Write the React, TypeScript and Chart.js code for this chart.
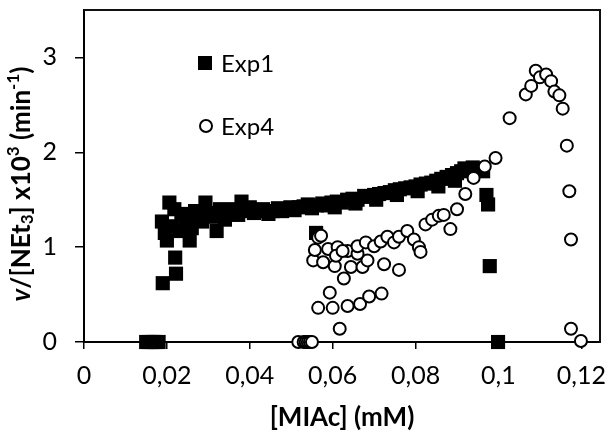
import React, { useEffect, useRef } from "react";
import { Chart, registerables } from "chart.js";

Chart.register(...registerables);

const xTickStep = 0.02;
const yTickStep = 1;
const xMax = 0.1245;
const yMax = 3.5;
const xTitle = "[MIAc] (mM)";
const legendLabels = ["Exp1", "Exp4"];

// Exp1 (filled squares)
const exp1X = [
  0.015, 0.0158, 0.0165, 0.0172, 0.018,
  0.019, 0.0222, 0.022, 0.02, 0.0188, 0.0206,
  0.0195, 0.0212, 0.0218, 0.023, 0.0235, 0.0245, 0.0255, 0.026, 0.0268, 0.0275,
  0.0285, 0.0293, 0.03, 0.031, 0.032, 0.0328, 0.034, 0.035, 0.0362, 0.0372,
  0.038, 0.039, 0.04, 0.041, 0.042, 0.0432, 0.0445, 0.0455, 0.0468, 0.0478,
  0.0488, 0.0498, 0.0508, 0.0518, 0.053, 0.054, 0.055, 0.056, 0.0562, 0.0575,
  0.0588, 0.0597, 0.061, 0.0622, 0.0635, 0.0648, 0.066, 0.0676, 0.0688, 0.07,
  0.0712, 0.0725, 0.0738, 0.075, 0.0762, 0.0775, 0.0788, 0.08, 0.0812, 0.0825,
  0.0838, 0.085, 0.0862, 0.0875, 0.0888, 0.09, 0.091, 0.0918, 0.0928, 0.0938,
  0.095, 0.0963, 0.0971, 0.0975, 0.0979, 0.0999,
  0.0605, 0.0655, 0.0705, 0.0755, 0.0805, 0.0855, 0.0895,
];
const exp1Y = [
  0, 0, 0, 0, 0,
  0.62, 0.72, 0.89, 1.07, 1.27, 1.47,
  1.15, 1.22, 1.4, 1.17, 1.35, 1.28, 1.07, 1.2, 1.38, 1.3,
  1.27, 1.47, 1.36, 1.32, 1.17, 1.4, 1.29, 1.36, 1.4, 1.34,
  1.48, 1.38, 1.42, 1.36, 1.38, 1.4, 1.35, 1.38, 1.41, 1.38,
  1.4, 1.42, 1.39, 1.42, 1.43, 1.45, 1.41, 1.15, 1.44, 1.46,
  1.44, 1.47, 1.48, 1.47, 1.5, 1.51, 1.5, 1.54, 1.53, 1.55,
  1.56, 1.57, 1.58, 1.6, 1.61, 1.62, 1.63, 1.64, 1.66, 1.67,
  1.68, 1.7, 1.72, 1.74, 1.76, 1.78, 1.8, 1.83, 1.82, 1.84,
  1.82, 1.8, 1.55, 1.45, 0.8, 0,
  1.42, 1.46, 1.5, 1.55, 1.59, 1.64, 1.7,
];

// Exp4 (open circles)
const exp4X = [
  0.0517, 0.053, 0.0535, 0.054, 0.0545, 0.055,
  0.0617, 0.0565, 0.06, 0.0636, 0.0666, 0.0688, 0.0718, 0.0593, 0.0627,
  0.0553, 0.0577, 0.0605, 0.0644, 0.0672, 0.0684, 0.0724, 0.076,
  0.0557, 0.0589, 0.0612, 0.0636, 0.066, 0.0565, 0.0572, 0.0608, 0.0624,
  0.066, 0.068, 0.07, 0.0716, 0.0732, 0.0748, 0.076, 0.078, 0.0796, 0.0808,
  0.0812, 0.0824, 0.084, 0.0856, 0.0868, 0.0884, 0.09, 0.092, 0.094, 0.0967,
  0.0993, 0.1027, 0.1066, 0.1079, 0.109, 0.11, 0.1115, 0.1127, 0.1135, 0.1147,
  0.1155, 0.1165, 0.1171, 0.1175, 0.1175, 0.1199,
];
const exp4Y = [
  0, 0, 0, 0, 0, 0,
  0.14, 0.36, 0.36, 0.38, 0.4, 0.48, 0.51, 0.52, 0.67,
  0.86, 0.84, 0.8, 0.79, 0.79, 0.86, 0.82, 0.76,
  0.97, 0.98, 1.0, 0.96, 0.93, 1.1, 1.12, 0.91, 0.96,
  1.01, 1.05, 1.01, 1.06, 1.11, 1.05, 1.11, 1.17, 1.08, 1.0,
  0.95, 1.24, 1.29, 1.33, 1.34, 1.19, 1.4, 1.56, 1.73, 1.85,
  1.94, 2.36, 2.61, 2.7, 2.86, 2.79, 2.82, 2.75, 2.64, 2.6,
  2.46, 2.07, 1.59, 1.08, 0.14, 0.01,
];

const FONT = "Lato, 'Open Sans', sans-serif";
const INK = "#111";

function fmtTick(v: number): string {
  const r = Math.round(v * 100) / 100;
  return String(r).replace(".", ",");
}

function zeroPad(s: any) {
  s.paddingTop = 0;
  s.paddingBottom = 0;
  s.paddingLeft = 0;
  s.paddingRight = 0;
}

const decorPlugin = {
  id: "decor",
  afterDraw(chart: any) {
    const ctx = chart.ctx;
    const a = chart.chartArea;
    ctx.save();
    ctx.strokeStyle = INK;
    ctx.lineWidth = 2;
    ctx.beginPath();
    ctx.moveTo(a.left, a.top);
    ctx.lineTo(a.right, a.top);
    ctx.lineTo(a.right, a.bottom);
    ctx.stroke();

    // legend
    ctx.fillStyle = "#000";
    ctx.fillRect(198, 56, 14, 14);
    ctx.beginPath();
    ctx.arc(206, 126, 6, 0, Math.PI * 2);
    ctx.fillStyle = "#fff";
    ctx.fill();
    ctx.lineWidth = 2;
    ctx.strokeStyle = "#000";
    ctx.stroke();
    ctx.fillStyle = "#000";
    ctx.font = `24px ${FONT}`;
    ctx.textBaseline = "middle";
    ctx.textAlign = "left";
    ctx.fillText(legendLabels[0], 221, 64);
    ctx.fillText(legendLabels[1], 221, 127);

    // x title
    ctx.font = `bold 26px ${FONT}`;
    ctx.textAlign = "center";
    ctx.fillText(xTitle, (a.left + a.right) / 2, 418);

    // y title (rich text)
    const pieces: [string, string, number][] = [
      ["v", `italic bold 26px ${FONT}`, 0],
      ["/[NEt", `bold 26px ${FONT}`, 0],
      ["3", `bold 17px ${FONT}`, 6],
      ["] x10", `bold 26px ${FONT}`, 0],
      ["3", `bold 17px ${FONT}`, -8],
      [" (min", `bold 26px ${FONT}`, 0],
      ["-1", `bold 17px ${FONT}`, -8],
      [")", `bold 26px ${FONT}`, 0],
    ];
    let total = 0;
    const widths = pieces.map(([t, f]) => {
      ctx.font = f;
      const w = ctx.measureText(t).width;
      total += w;
      return w;
    });
    ctx.translate(22, 184);
    ctx.rotate(-Math.PI / 2);
    ctx.textAlign = "left";
    ctx.textBaseline = "middle";
    let x = -total / 2;
    pieces.forEach(([t, f, dy], i) => {
      ctx.font = f;
      ctx.fillText(t, x, dy);
      x += widths[i];
    });
    ctx.restore();
  },
};

export default function App() {
  const ref = useRef<HTMLCanvasElement | null>(null);
  useEffect(() => {
    document.body.style.margin = "0";
    const canvas = ref.current!;
    const chart = new Chart(canvas, {
      type: "scatter",
      data: {
        datasets: [
          {
            label: legendLabels[0],
            data: exp1X.map((x, i) => ({ x, y: exp1Y[i] })),
            pointStyle: "rect",
            pointRadius: 10,
            backgroundColor: "#000",
            borderColor: "#000",
            borderWidth: 0,
            order: 2,
            clip: false as any,
          },
          {
            label: legendLabels[1],
            data: exp4X.map((x, i) => ({ x, y: exp4Y[i] })),
            pointStyle: "circle",
            pointRadius: 6,
            backgroundColor: "#fff",
            borderColor: "#000",
            borderWidth: 2,
            order: 1,
            clip: false as any,
          },
        ],
      },
      options: {
        responsive: false,
        animation: false,
        layout: { padding: { top: 7, right: 5, left: 0, bottom: 0 } },
        plugins: { legend: { display: false }, tooltip: { enabled: false } },
        scales: {
          x: {
            type: "linear",
            position: "bottom",
            min: 0,
            max: xMax,
            afterFit: (s: any) => {
              s.height = 91;
              zeroPad(s);
            },
            ticks: {
              stepSize: xTickStep,
              includeBounds: false,
              color: "#000",
              font: { family: FONT, size: 25 },
              padding: 12,
              maxRotation: 0,
              autoSkip: false,
              callback: (v: any) => fmtTick(Number(v)),
            },
            grid: { drawOnChartArea: false, drawTicks: true, tickLength: 7, color: "#000", lineWidth: 1.5 },
            border: { display: true, color: "#000", width: 2 },
          },
          xTop: {
            type: "linear",
            position: "top",
            display: true,
            min: 0,
            max: xMax,
            afterFit: (s: any) => {
              s.height = 0;
              zeroPad(s);
            },
            ticks: { display: false },
            grid: { display: false, drawTicks: false },
            border: { display: true, color: INK, width: 2 },
          },
          y: {
            type: "linear",
            position: "left",
            min: 0,
            max: yMax,
            afterFit: (s: any) => {
              s.width = 84;
              zeroPad(s);
            },
            ticks: {
              stepSize: yTickStep,
              includeBounds: false,
              color: "#000",
              font: { family: FONT, size: 25 },
              padding: 18,
              callback: (v: any) => fmtTick(Number(v)),
            },
            grid: { drawOnChartArea: false, drawTicks: true, tickLength: 9, color: "#000", lineWidth: 1.5 },
            border: { display: true, color: "#000", width: 2 },
          },
          yRight: {
            type: "linear",
            position: "right",
            display: true,
            min: 0,
            max: yMax,
            afterFit: (s: any) => {
              s.width = 0;
              zeroPad(s);
            },
            ticks: { display: false },
            grid: { display: false, drawTicks: false },
            border: { display: true, color: INK, width: 2 },
          },
        },
      },
      plugins: [decorPlugin],
    });
    return () => chart.destroy();
  }, []);
  return <canvas ref={ref} width={610} height={433} style={{ display: "block" }} />;
}
